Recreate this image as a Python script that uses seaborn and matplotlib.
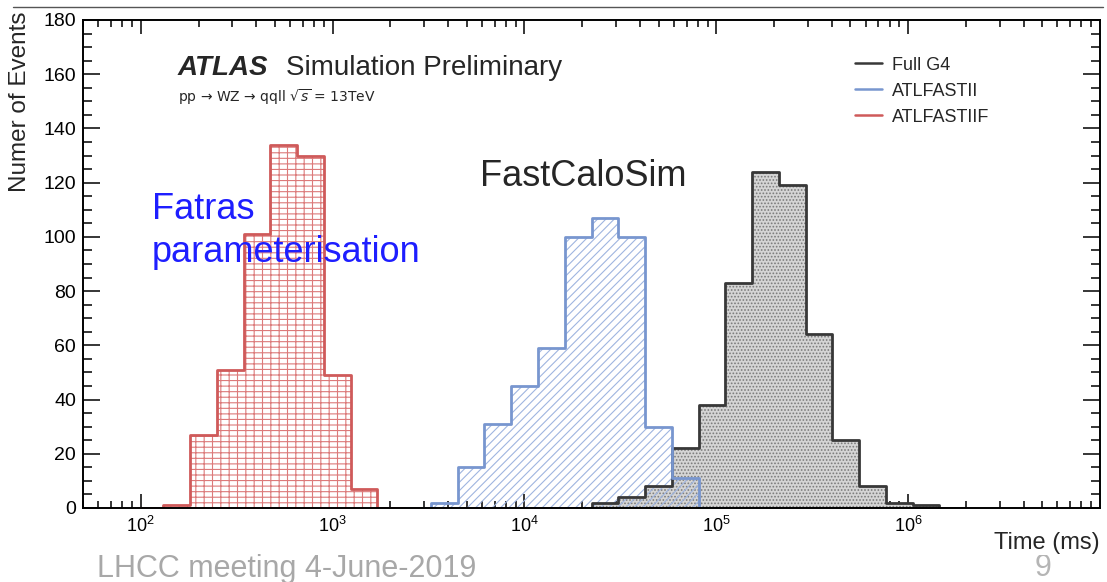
import numpy as np
import pandas as pd
import matplotlib.pyplot as plt
import seaborn as sns
from matplotlib.lines import Line2D
from matplotlib.ticker import MultipleLocator, LogLocator, NullFormatter

# Binning: 38 log-uniform bins from 50 ms to 1e7 ms
N_BINS = 38
LOG_LO, LOG_HI = np.log10(50), 7.0

# Bin counts (each series starts at the given bin index)
g4_first_bin = 19
g4_counts = [2, 4, 8, 22, 38, 83, 124, 119, 64, 25, 8, 2, 1]
af2_first_bin = 13
af2_counts = [2, 15, 31, 45, 59, 100, 107, 100, 30, 11]
af2f_first_bin = 3
af2f_counts = [1, 27, 51, 101, 134, 130, 49, 7]

labels = ["Full G4", "ATLFASTII", "ATLFASTIIF"]
line_colors = ["#383838", "#7896cf", "#cf5a5a"]
x_major = [1e2, 1e3, 1e4, 1e5, 1e6]

sns.set_style("ticks")
plt.rcParams["font.family"] = ["Liberation Sans", "DejaVu Sans"]
plt.rcParams["hatch.linewidth"] = 0.8

log_edges = np.linspace(LOG_LO, LOG_HI, N_BINS + 1)
centers = 10 ** ((log_edges[:-1] + log_edges[1:]) / 2)


def draw_hist(ax, first, counts, line_color, face, hatch_color, hatch):
    n = len(counts)
    df = pd.DataFrame({"time": centers[first:first + n], "events": counts})
    # one empty bin on each side so the outline closes down to zero
    # (list, not array: seaborn compares bins == "auto" when weights are used)
    bins = log_edges[first - 1:first + n + 2].tolist()
    sns.histplot(data=df, x="time", weights="events", bins=bins, log_scale=True,
                 element="step", fill=True, color=line_color, facecolor=face,
                 edgecolor=hatch_color, linewidth=0, hatch=hatch, ax=ax, zorder=1)
    sns.histplot(data=df, x="time", weights="events", bins=bins, log_scale=True,
                 element="step", fill=False, color=line_color, linewidth=2,
                 ax=ax, zorder=2)


fig = plt.figure(figsize=(11.07, 5.82), dpi=100)
ax = fig.add_axes([83 / 1107, 1 - 508 / 582, 1017 / 1107, 488 / 582])

draw_hist(ax, g4_first_bin, g4_counts, line_colors[0], "#d5d5d5", "#7a7a7a", ".....")
draw_hist(ax, af2_first_bin, af2_counts, line_colors[1], (1, 1, 1, 0), "#9fb5e0", "////")
draw_hist(ax, af2f_first_bin, af2f_counts, line_colors[2], "white", "#dc7a7a", "++-")

ax.set_xlim(50, 1e7)
ax.set_ylim(0, 180)
ax.set_xlabel("")
ax.set_ylabel("")

ax.yaxis.set_major_locator(MultipleLocator(20))
ax.yaxis.set_minor_locator(MultipleLocator(5))
ax.set_xticks(x_major)
ax.xaxis.set_minor_locator(LogLocator(base=10, subs=np.arange(2, 10)))
ax.xaxis.set_minor_formatter(NullFormatter())
ax.tick_params(which="both", direction="in", top=True, right=True, width=1.1, colors="black")
ax.xaxis.set_tick_params(which="major", length=10, pad=6, labelsize=13)
ax.xaxis.set_tick_params(which="minor", length=5)
ax.yaxis.set_tick_params(which="major", length=12.5, pad=5, labelsize=14)
ax.yaxis.set_tick_params(which="minor", length=6.5)
for s in ax.spines.values():
    s.set_linewidth(1.4)
    s.set_color("black")

# ATLAS label block
ax.text(0.0934, 0.887, "ATLAS", transform=ax.transAxes, fontsize=20,
        fontweight="bold", fontstyle="italic", va="baseline")
ax.text(0.1996, 0.887, "Simulation Preliminary", transform=ax.transAxes,
        fontsize=20, va="baseline")
ax.text(0.0934, 0.832, "pp \u2192 WZ \u2192 qqll $\\sqrt{s}$ = 13TeV",
        transform=ax.transAxes, fontsize=10, va="baseline",
        family=["DejaVu Sans"])

ax.text(0.390, 0.660, "FastCaloSim", transform=ax.transAxes, fontsize=26,
        va="baseline")
ax.text(0.0678, 0.592, "Fatras", transform=ax.transAxes, fontsize=26,
        va="baseline", color="#1e1eff")
ax.text(0.0678, 0.504, "parameterisation", transform=ax.transAxes, fontsize=26,
        va="baseline", color="#1e1eff")

handles = [Line2D([], [], color=c, lw=1.8) for c in line_colors]
ax.legend(handles, labels, loc="upper left", bbox_to_anchor=(0.759, 0.925),
          frameon=False, fontsize=13, handlelength=1.5, handletextpad=0.55,
          labelspacing=0.5, borderpad=0, borderaxespad=0)

# axis titles and slide decorations
fig.text(20 / 1107, 1 - 12 / 582, "Numer of Events", rotation=90, ha="center",
         va="top", fontsize=17.5)
fig.text(1043 / 1107, 1 - 576 / 582, "9", ha="center", va="baseline",
         fontsize=22, color="#b5b5b5")
fig.text(1100 / 1107, 1 - 549 / 582, "Time (ms)", ha="right", va="baseline",
         fontsize=17, bbox=dict(facecolor="white", edgecolor="none", pad=0.5))
fig.text(97 / 1107, 1 - 577 / 582, "LHCC meeting 4-June-2019", ha="left",
         va="baseline", fontsize=22, color="#a8a8a8")
fig.add_artist(Line2D([13 / 1107, 1103 / 1107], [1 - 7 / 582] * 2,
                      color="#555555", lw=1))

fig.savefig("out.png", dpi=100)
